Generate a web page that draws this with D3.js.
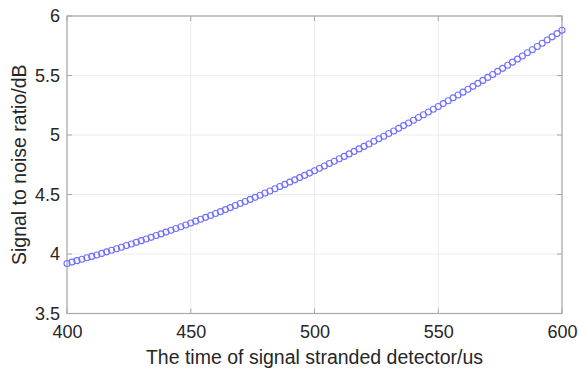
<!DOCTYPE html>
<html>
<head>
<meta charset="utf-8">
<title>SNR vs time</title>
<style>
  body { margin: 0; background: #fff; }
  text { font-family: Arial, "Liberation Sans", sans-serif; fill: #262626; }
  .grid line { stroke: #ececec; stroke-width: 1px; }
  .box { fill: none; stroke: #a8a8a8; stroke-width: 1.2px; }
  .tick-mark { stroke: #a8a8a8; stroke-width: 1px; }
  .pt { fill: none; stroke: #6f6fff; stroke-width: 1.1px; }
</style>
</head>
<body>
<script src="https://cdnjs.cloudflare.com/ajax/libs/d3/7.8.5/d3.min.js"></script>
<script>
var width = 578,
    height = 371;
var margin = {left: 67, top: 16, right: 16, bottom: 57.5};

// time of signal stranded detector (us)
var times = [400,402,404,406,408,410,412,414,416,418,420,422,424,426,428,430,432,434,436,438,
  440,442,444,446,448,450,452,454,456,458,460,462,464,466,468,470,472,474,476,478,
  480,482,484,486,488,490,492,494,496,498,500,502,504,506,508,510,512,514,516,518,
  520,522,524,526,528,530,532,534,536,538,540,542,544,546,548,550,552,554,556,558,
  560,562,564,566,568,570,572,574,576,578,580,582,584,586,588,590,592,594,596,598,600];

// signal to noise ratio (dB)
var snr = [3.920,3.932,3.944,3.956,3.968,3.980,3.992,4.005,4.018,4.031,
  4.044,4.057,4.071,4.084,4.098,4.112,4.126,4.140,4.155,4.169,
  4.184,4.199,4.214,4.229,4.244,4.260,4.276,4.292,4.308,4.324,
  4.340,4.356,4.373,4.390,4.407,4.424,4.441,4.459,4.476,4.494,
  4.512,4.530,4.548,4.567,4.585,4.604,4.623,4.642,4.661,4.680,
  4.700,4.720,4.740,4.760,4.780,4.800,4.820,4.841,4.862,4.883,
  4.904,4.925,4.947,4.968,4.990,5.012,5.034,5.056,5.079,5.101,
  5.124,5.147,5.170,5.193,5.216,5.240,5.264,5.288,5.312,5.336,
  5.360,5.384,5.409,5.434,5.459,5.484,5.509,5.535,5.560,5.586,
  5.612,5.638,5.664,5.691,5.717,5.744,5.771,5.798,5.825,5.852,5.880];

var xTicks = [400, 450, 500, 550, 600];
var yTicks = [3.5, 4, 4.5, 5, 5.5, 6];

var svg = d3.select("body").append("svg")
    .attr("width", width)
    .attr("height", height);

var x = d3.scaleLinear().domain([400, 600]).range([margin.left, width - margin.right]);
var y = d3.scaleLinear().domain([3.5, 6]).range([height - margin.bottom, margin.top]);

// grid
var grid = svg.append("g").attr("class", "grid");
grid.selectAll(".gx").data(xTicks).enter().append("line")
    .attr("x1", function(d){ return x(d); }).attr("x2", function(d){ return x(d); })
    .attr("y1", y(3.5)).attr("y2", y(6));
grid.selectAll(".gy").data(yTicks).enter().append("line")
    .attr("y1", function(d){ return y(d); }).attr("y2", function(d){ return y(d); })
    .attr("x1", x(400)).attr("x2", x(600));

// inner tick marks (all four sides)
var tl = 5;
var tm = svg.append("g");
xTicks.forEach(function(d){
  tm.append("line").attr("class","tick-mark").attr("x1",x(d)).attr("x2",x(d)).attr("y1",y(3.5)).attr("y2",y(3.5)-tl);
  tm.append("line").attr("class","tick-mark").attr("x1",x(d)).attr("x2",x(d)).attr("y1",y(6)).attr("y2",y(6)+tl);
});
yTicks.forEach(function(d){
  tm.append("line").attr("class","tick-mark").attr("y1",y(d)).attr("y2",y(d)).attr("x1",x(400)).attr("x2",x(400)+tl);
  tm.append("line").attr("class","tick-mark").attr("y1",y(d)).attr("y2",y(d)).attr("x1",x(600)).attr("x2",x(600)-tl);
});

svg.append("rect").attr("class", "box")
    .attr("x", x(400)).attr("y", y(6))
    .attr("width", x(600) - x(400)).attr("height", y(3.5) - y(6));

// axes labels via d3 axes
var xAxis = svg.append("g")
    .attr("transform", "translate(0," + y(3.5) + ")")
    .call(d3.axisBottom(x).tickValues(xTicks).tickSize(0).tickPadding(12));
var yAxis = svg.append("g")
    .attr("transform", "translate(" + x(400) + ",0)")
    .call(d3.axisLeft(y).tickValues(yTicks).tickSize(0).tickPadding(7).tickFormat(d3.format("")));
[xAxis, yAxis].forEach(function(a){
  a.select(".domain").remove();
  a.selectAll("text").style("font-size", "18px").attr("font-family", null).style("fill", "#262626");
  a.attr("font-family", null);
});

// points
svg.append("g").selectAll("circle")
    .data(times)
    .enter()
    .append("circle")
    .attr("class", "pt")
    .attr("r", 3)
    .attr("cx", function(d){ return x(d); })
    .attr("cy", function(d, i){ return y(snr[i]); });

// titles
svg.append("text")
    .attr("x", (x(400) + x(600)) / 2)
    .attr("y", 364)
    .attr("text-anchor", "middle")
    .style("font-size", "19.5px")
    .text("The time of signal stranded detector/us");

svg.append("text")
    .attr("transform", "translate(26," + (y(3.5) + y(6)) / 2 + ") rotate(-90)")
    .attr("text-anchor", "middle")
    .style("font-size", "19.5px")
    .text("Signal to noise ratio/dB");
</script>
</body>
</html>
